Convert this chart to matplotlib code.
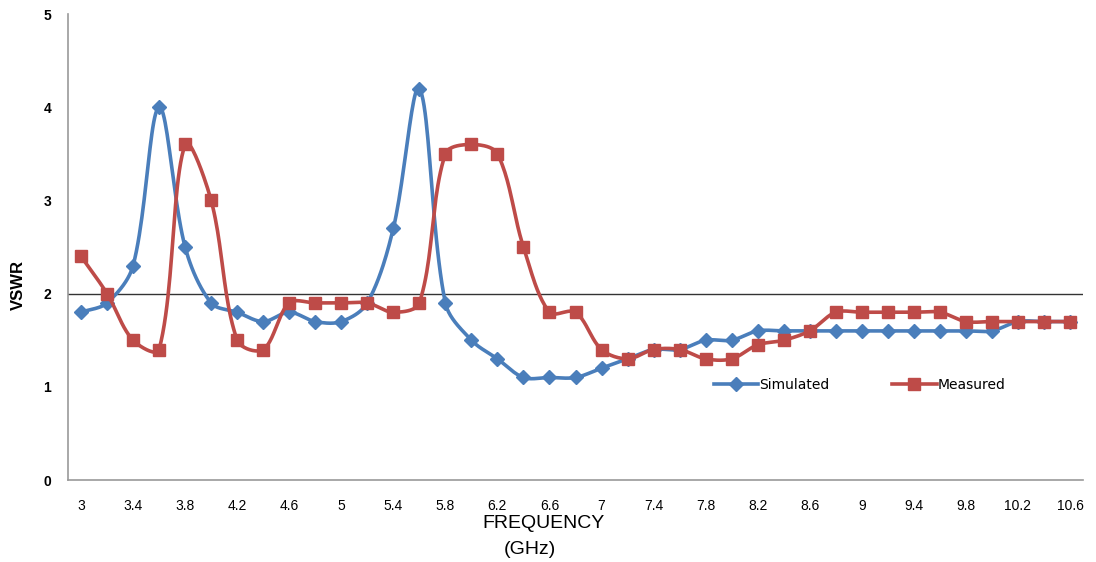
import numpy as np
import matplotlib
matplotlib.use("Agg")
import matplotlib.pyplot as plt

plt.rcParams['font.family'] = ['Liberation Sans', 'DejaVu Sans']

# frequency categories, 3.0 .. 10.6 GHz in 0.2 steps
freqs = ["3", "3.2", "3.4", "3.6", "3.8", "4", "4.2", "4.4", "4.6", "4.8",
         "5", "5.2", "5.4", "5.6", "5.8", "6", "6.2", "6.4", "6.6", "6.8",
         "7", "7.2", "7.4", "7.6", "7.8", "8", "8.2", "8.4", "8.6", "8.8",
         "9", "9.2", "9.4", "9.6", "9.8", "10", "10.2", "10.4", "10.6"]

simulated = [1.8, 1.9, 2.3, 4.0, 2.5, 1.9, 1.8, 1.7, 1.8, 1.7,
             1.7, 1.9, 2.7, 4.2, 1.9, 1.5, 1.3, 1.1, 1.1, 1.1,
             1.2, 1.3, 1.4, 1.4, 1.5, 1.5, 1.6, 1.6, 1.6, 1.6,
             1.6, 1.6, 1.6, 1.6, 1.6, 1.6, 1.7, 1.7, 1.7]

measured = [2.4, 2.0, 1.5, 1.4, 3.6, 3.0, 1.5, 1.4, 1.9, 1.9,
            1.9, 1.9, 1.8, 1.9, 3.5, 3.6, 3.5, 2.5, 1.8, 1.8,
            1.4, 1.3, 1.4, 1.4, 1.3, 1.3, 1.45, 1.5, 1.6, 1.8,
            1.8, 1.8, 1.8, 1.8, 1.7, 1.7, 1.7, 1.7, 1.7]

tick_labels = freqs[::2]

# pixel scale of the plot area, used so smoothing behaves like it does on screen
PX_X = 26.05
PX_Y = 93.2


def smooth(xs, ys, n=24):
    # spreadsheet-style smoothed line: bezier with control arms scaled by segment length
    pts = np.column_stack([np.asarray(xs) * PX_X, np.asarray(ys) * PX_Y]).astype(float)
    out = []
    for i in range(len(pts) - 1):
        p0 = pts[max(i - 1, 0)]
        p1 = pts[i]
        p2 = pts[i + 1]
        p3 = pts[min(i + 2, len(pts) - 1)]
        d01 = np.hypot(*(p1 - p0))
        d12 = np.hypot(*(p2 - p1))
        d23 = np.hypot(*(p3 - p2))
        f1 = d12 / (d01 + d12) / 3 if d01 + d12 > 0 else 0
        f2 = d12 / (d12 + d23) / 3 if d12 + d23 > 0 else 0
        c1 = p1 + (p2 - p0) * f1
        c2 = p2 - (p3 - p1) * f2
        t = np.linspace(0, 1, n)[:, None]
        seg = ((1 - t) ** 3) * p1 + 3 * ((1 - t) ** 2) * t * c1 + 3 * (1 - t) * t ** 2 * c2 + t ** 3 * p2
        out.append(seg if i == 0 else seg[1:])
    seg = np.vstack(out)
    return seg[:, 0] / PX_X, seg[:, 1] / PX_Y


fig = plt.figure(figsize=(10.96, 5.62), dpi=100)
ax = fig.add_axes([68 / 1096, 82 / 562, 1015 / 1096, 466 / 562])

x = np.arange(len(freqs))
blue = "#4A7EBB"
red = "#BE4B48"

sx, sy = smooth(x, simulated)
ax.plot(sx, sy, color=blue, lw=2.6, zorder=3)
ax.plot(x, simulated, ls="none", marker="D", ms=7, color=blue, zorder=3)
mx, my = smooth(x, measured)
ax.plot(mx, my, color=red, lw=2.6, zorder=4)
ax.plot(x, measured, ls="none", marker="s", ms=8.5, color=red, zorder=4)

# legend proxies
h1, = ax.plot([], [], color=blue, lw=2.6, marker="D", ms=7, label="Simulated")
h2, = ax.plot([], [], color=red, lw=2.6, marker="s", ms=8.5, label="Measured")
ax.legend(handles=[h1, h2], loc="center", bbox_to_anchor=(0.78, 0.204), ncol=2,
          frameon=False, handlelength=3.2, handletextpad=0.1,
          columnspacing=4.5, prop={'family': 'DejaVu Sans', 'size': 10})

ax.axhline(2, color="#333333", lw=1.0, zorder=2)

ax.set_xlim(-0.5, len(freqs) - 0.5)
ax.set_ylim(0, 5)
ax.set_xticks(x[::2])
ax.set_xticklabels(tick_labels)
ax.set_yticks(range(6))
ax.tick_params(axis="both", length=0, labelsize=10)
ax.tick_params(axis="x", pad=14)
ax.tick_params(axis="y", pad=12)
for lab in ax.get_yticklabels():
    lab.set_fontweight("bold")

for s in ["top", "right"]:
    ax.spines[s].set_visible(False)
for s in ["left", "bottom"]:
    ax.spines[s].set_color("#999999")
    ax.spines[s].set_linewidth(1.2)

fig.text(18 / 1096, 1 - 285 / 562, "VSWR", rotation=90, ha="center", va="center",
         fontsize=12, fontweight="bold")
fig.text(543 / 1096, 1 - 524 / 562, "FREQUENCY", ha="center", va="center", fontsize=14)
fig.text(530 / 1096, 1 - 550 / 562, "(GHz)", ha="center", va="center", fontsize=14)

fig.savefig("out.png", dpi=100)
